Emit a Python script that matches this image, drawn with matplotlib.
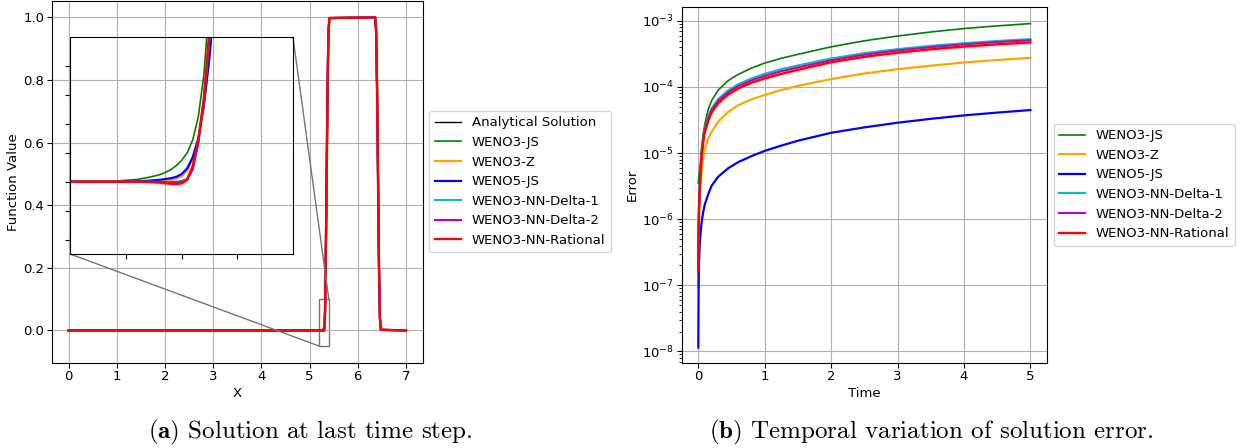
import matplotlib
matplotlib.use("Agg")
import matplotlib.pyplot as plt
import numpy as np
from mpl_toolkits.axes_grid1.inset_locator import mark_inset

plt.rcParams['font.size'] = 9.5
plt.rcParams['mathtext.fontset'] = 'cm'
plt.rcParams['xtick.major.pad'] = 2
plt.rcParams['ytick.major.pad'] = 2
plt.rcParams['axes.labelpad'] = 2.5

# ---- (a) solution at last time step ----
x_rise = [0.0, 5.20, 5.24, 5.26, 5.27, 5.28, 5.285, 5.29, 5.295, 5.30, 5.305, 5.31, 5.315, 5.32, 5.325, 5.33]
x_tail = [5.35, 5.37, 5.39, 5.41, 6.36, 6.38, 6.40, 6.42, 6.44, 6.46, 6.48, 7.0]
y_tail = [0.42, 0.73, 0.94, 0.998, 1.0, 0.96, 0.78, 0.50, 0.21, 0.04, 0.002, 0.0]
x_num = x_rise + x_tail

y_exact = [0, 0, 0, 0, 0, 0, 0, 0, 0, 0, 0.001, 0.009, 0.027, 0.056, 0.10, 0.155] + y_tail
y_w3js = [0, 0, 0.0004, 0.0016, 0.003, 0.0048, 0.0063, 0.0082, 0.011, 0.0148, 0.020, 0.029, 0.045, 0.074, 0.125, 0.19] + y_tail
y_w3z = [0, 0, 0, 0, 0.0001, 0.0003, 0.0006, 0.001, 0.002, 0.0038, 0.0078, 0.016, 0.029, 0.052, 0.088, 0.135] + y_tail
y_w5js = [0, 0, 0, 0.0003, 0.0007, 0.0013, 0.0018, 0.0024, 0.0033, 0.0053, 0.0092, 0.017, 0.030, 0.053, 0.086, 0.13] + y_tail
y_nnd1 = [0, 0, 0, 0, 0, -0.0001, -0.0002, -0.0002, 0.0, 0.0006, 0.002, 0.009, 0.027, 0.056, 0.10, 0.15] + y_tail
y_nnd2 = [0, 0, 0, 0, 0, -0.0002, -0.0003, -0.0004, -0.0003, 0.0, 0.0015, 0.0085, 0.027, 0.056, 0.10, 0.15] + y_tail
y_nnr = [0, 0, 0, 0, -0.0002, -0.0006, -0.001, -0.0014, -0.0016, -0.0012, 0.0015, 0.011, 0.029, 0.058, 0.105, 0.16] + y_tail

# ---- (b) error over time ----
t = [0.0, 0.005, 0.01, 0.02, 0.03, 0.05, 0.075, 0.1, 0.15, 0.2, 0.3, 0.45, 0.6, 0.8, 1.0,
     1.25, 1.5, 2.0, 2.5, 3.0, 3.5, 4.0, 4.5, 5.0]
e_w3js = [3.5e-6, 4.0e-6, 4.6e-6, 5.5e-6, 6.8e-6, 1.2e-5, 2.0e-5, 2.8e-5, 4.6e-5, 6.2e-5, 9.0e-5, 1.25e-4,
          1.55e-4, 1.93e-4, 2.3e-4, 2.72e-4, 3.12e-4, 4.05e-4, 5.0e-4, 5.9e-4, 6.8e-4, 7.66e-4, 8.4e-4, 9.1e-4]
e_w3z = [9.5e-8, 5e-7, 9e-7, 1.9e-6, 3.0e-6, 5.5e-6, 8.5e-6, 1.15e-5, 1.65e-5, 2.1e-5, 3.0e-5, 4.2e-5,
         5.3e-5, 6.5e-5, 7.6e-5, 9.0e-5, 1.04e-4, 1.32e-4, 1.6e-4, 1.86e-4, 2.1e-4, 2.35e-4, 2.56e-4, 2.76e-4]
e_w5js = [1.15e-8, 1.0e-7, 2.0e-7, 3.8e-7, 5.5e-7, 9.0e-7, 1.3e-6, 1.7e-6, 2.4e-6, 3.2e-6, 4.4e-6, 5.9e-6,
          7.3e-6, 9.0e-6, 1.08e-5, 1.3e-5, 1.54e-5, 2.03e-5, 2.45e-5, 2.88e-5, 3.3e-5, 3.72e-5, 4.1e-5, 4.48e-5]
e_nnd1 = [1.8e-7, 8.2e-7, 1.5e-6, 3.0e-6, 4.8e-6, 1.03e-5, 1.72e-5, 2.4e-5, 3.6e-5, 4.75e-5, 6.6e-5, 8.9e-5,
          1.1e-4, 1.35e-4, 1.58e-4, 1.86e-4, 2.12e-4, 2.7e-4, 3.25e-4, 3.74e-4, 4.2e-4, 4.6e-4, 4.97e-4, 5.3e-4]
e_nnd2 = [1.7e-7, 7.6e-7, 1.4e-6, 2.8e-6, 4.5e-6, 9.7e-6, 1.62e-5, 2.26e-5, 3.35e-5, 4.45e-5, 6.2e-5, 8.35e-5,
          1.03e-4, 1.26e-4, 1.47e-4, 1.73e-4, 1.98e-4, 2.54e-4, 3.08e-4, 3.57e-4, 4.0e-4, 4.42e-4, 4.78e-4, 5.1e-4]
e_nnr = [1.6e-7, 7e-7, 1.3e-6, 2.6e-6, 4.2e-6, 9e-6, 1.5e-5, 2.1e-5, 3.1e-5, 4.1e-5, 5.7e-5, 7.7e-5,
         9.5e-5, 1.16e-4, 1.35e-4, 1.58e-4, 1.82e-4, 2.37e-4, 2.86e-4, 3.3e-4, 3.72e-4, 4.09e-4, 4.42e-4, 4.72e-4]

names = ["WENO3-JS", "WENO3-Z", "WENO5-JS", "WENO3-NN-Delta-1", "WENO3-NN-Delta-2", "WENO3-NN-Rational"]
colors = ["green", "orange", "blue", "c", "m", "red"]
widths = [1.2, 1.6, 1.6, 1.5, 1.5, 1.7]

fig = plt.figure(figsize=(12.41, 4.48), dpi=100)
ax1 = fig.add_axes([0.0417, 0.1908, 0.299, 0.807])
ax2 = fig.add_axes([0.5493, 0.1908, 0.2944, 0.7935])

sol = [y_w3js, y_w3z, y_w5js, y_nnd1, y_nnd2, y_nnr]

ax1.plot(x_num, y_exact, color="k", lw=1.0, label="Analytical Solution")
for y, c, n, w in zip(sol, colors, names, widths):
    ax1.plot(x_num, y, color=c, lw=w, label=n)
ax1.set_xlim(-0.35, 7.35)
ax1.set_ylim(-0.1025, 1.0525)
ax1.set_xlabel("X")
ax1.set_ylabel("Function Value")
ax1.grid(True)
ax1.legend(loc="center left", bbox_to_anchor=(1.0, 0.5))

axins = ax1.inset_axes([0.05, 0.3, 0.6, 0.6])
axins.patch.set_alpha(0)
axins.plot(x_num, y_exact, color="k", lw=1.0)
for y, c, w in zip(sol, colors, widths):
    axins.plot(x_num, y, color=c, lw=w)
axins.fill_between(x_num, np.array(y_nnr) - 0.0015, np.array(y_nnr) + 0.0015, color="red", alpha=0.12, lw=0)
axins.set_xlim(5.2, 5.4)
axins.set_ylim(-0.05, 0.1)
axins.set_xticks([5.25, 5.3, 5.35])
axins.set_yticks([-0.04, -0.02, 0.0, 0.02, 0.04, 0.06, 0.08])
axins.set_xticklabels([])
axins.set_yticklabels([])
mark_inset(ax1, axins, loc1=1, loc2=3, fc="none", ec="0.45", lw=1.0)

for e, c, n, w in zip([e_w3js, e_w3z, e_w5js, e_nnd1, e_nnd2, e_nnr], colors, names, widths):
    ax2.plot(t, e, color=c, lw=w, label=n)
ax2.fill_between(t, np.array(e_nnr) * 0.93, np.array(e_nnr) * 1.07, color="red", alpha=0.12, lw=0)
ax2.set_yscale("log")
ax2.set_xlim(-0.25, 5.25)
ax2.set_ylim(6.8e-9, 1.62e-3)
ax2.set_xlabel("Time")
ax2.set_ylabel("Error")
ax2.grid(True)
ax2.legend(loc="center left", bbox_to_anchor=(1.0, 0.5))

fig.text(0.25, 0.035, r"$\mathbf{(a)}$ Solution at last time step.", family="cmr10",
         fontsize=18, ha="center", va="center")
fig.text(0.75, 0.035, r"$\mathbf{(b)}$ Temporal variation of solution error.", family="cmr10",
         fontsize=18, ha="center", va="center")

fig.savefig("out.png", dpi=100)
